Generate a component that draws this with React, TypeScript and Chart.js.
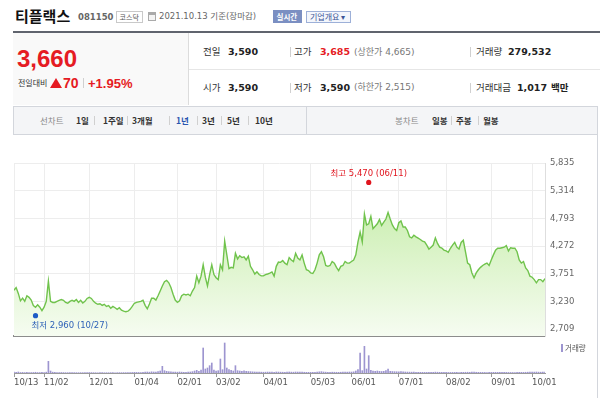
import React, { useEffect, useRef } from "react";
import { Chart, registerables } from "chart.js";

Chart.register(...registerables);

// x ticks: trading-day index of each labelled date
const tickIdx = [0, 14, 35, 56, 76, 94, 116, 138, 157, 179, 201, 222, 241];
const tickLabels = ["10/13", "11/02", "12/01", "01/04", "02/01", "03/02", "04/01", "05/03", "06/01", "07/01", "08/02", "09/01", "10/01"];
const priceTicks = [2709, 3230, 3751, 4272, 4793, 5314, 5835];

// daily closes 2020-10-13 .. 2021-10-13
const closes = [
  3440, 3490, 3380, 3240, 3290, 3230, 3335, 3305, 3255, 3150,
  3120, 3165, 3120, 3055, 3120, 3230, 3610, 3230, 3210, 3210,
  3230, 3250, 3265, 3250, 3210, 3195, 3230, 3250, 3230, 3265,
  3210, 3250, 3200, 3230, 3285, 3305, 3285, 3230, 3195, 3175,
  3185, 3155, 3175, 3135, 3150, 3100, 3135, 3110, 3080, 3110,
  3065, 3045, 3035, 3045, 3080, 3135, 3195, 3210, 3220, 3230,
  3250, 3155, 3090, 3180, 3290, 3290, 3255, 3335, 3425, 3520,
  3600, 3625, 3580, 3490, 3365, 3255, 3210, 3240, 3335, 3365,
  3350, 3365, 3335, 3425, 3490, 3705, 3580, 3705, 3920, 3685,
  3520, 3735, 3920, 3735, 3675, 3640, 3920, 3825, 4365, 4105,
  3845, 3870, 3860, 4135, 4030, 4090, 4055, 4070, 4010, 4080,
  3890, 3825, 3745, 3785, 3735, 3710, 3710, 3735, 3745, 3760,
  3785, 3705, 3890, 3970, 3965, 4000, 3950, 3920, 4055, 4010,
  3980, 4135, 4045, 4010, 4105, 3950, 3825, 3810, 3765, 3755,
  3825, 3950, 4105, 4165, 4070, 3905, 3890, 3905, 3980, 3950,
  3870, 3810, 3890, 3905, 3980, 3950, 3950, 3980, 4010, 4105,
  4350, 4535, 4350, 4875, 4670, 4690, 4830, 4600, 4645, 4690,
  4770, 4660, 4720, 4780, 4905, 4780, 4670, 4600, 4565, 4710,
  4745, 4630, 4630, 4565, 4445, 4425, 4475, 4445, 4420, 4395,
  4365, 4350, 4290, 4215, 4250, 4290, 4425, 4320, 4250, 4235,
  4195, 4180, 4155, 4230, 4290, 4340, 4250, 4215, 4340, 4380,
  4165, 3950, 3920, 3765, 3675, 3765, 3825, 3870, 3905, 3930,
  3950, 3905, 4010, 4105, 4195, 4230, 4230, 4240, 4250, 4280,
  4180, 4240, 4230, 4230, 4165, 4010, 3950, 3980, 3860, 3810,
  3705, 3685, 3640, 3580, 3640, 3640, 3600, 3660,
];

// daily volume (thousand shares)
const volumes = [
  250, 200, 300, 150, 180, 120, 200, 150, 130, 160,
  220, 140, 130, 180, 150, 250, 3500, 600, 250, 180,
  140, 120, 150, 130, 110, 100, 120, 140, 110, 100,
  90, 110, 100, 130, 150, 140, 120, 100, 90, 80,
  100, 90, 80, 90, 85, 100, 90, 80, 95, 110,
  100, 120, 110, 100, 130, 150, 200, 180, 160, 150,
  170, 250, 300, 250, 350, 300, 250, 400, 600, 2000,
  700, 500, 400, 350, 300, 280, 250, 300, 250, 220,
  200, 250, 300, 400, 600, 800, 500, 900, 7500, 1200,
  1500, 2200, 3000, 900, 600, 700, 4200, 1000, 9000, 1500,
  1000, 800, 600, 2200, 700, 600, 500, 650, 500, 450,
  400, 350, 300, 300, 250, 250, 230, 250, 280, 260,
  250, 220, 300, 280, 250, 230, 220, 250, 300, 260,
  240, 300, 280, 250, 260, 220, 200, 210, 190, 200,
  230, 250, 350, 400, 300, 250, 230, 220, 240, 230,
  220, 210, 230, 240, 250, 260, 300, 280, 350, 600,
  1000, 6000, 700, 8000, 1200, 5200, 800, 600, 500, 600,
  500, 450, 500, 700, 1200, 500, 450, 400, 380, 350,
  400, 350, 300, 280, 260, 250, 240, 230, 220, 210,
  200, 190, 180, 200, 190, 210, 260, 230, 200, 190,
  180, 170, 160, 170, 180, 190, 170, 160, 180, 200,
  220, 230, 210, 250, 280, 220, 200, 190, 180, 170,
  160, 170, 180, 200, 210, 190, 180, 170, 180, 190,
  170, 160, 150, 160, 170, 200, 210, 190, 220, 240,
  260, 250, 270, 300, 260, 240, 250, 280,
];

const highIdx = 165;
const highValue = 5470;
const highLabel = "최고 5,470 (06/11)";
const lowIdx = 10;
const lowValue = 2960;
const lowLabel = "최저 2,960 (10/27)";

const KR = '"Noto Sans CJK KR", sans-serif';
const NUM = '"DejaVu Sans", "Noto Sans CJK KR", sans-serif';
const ARIAL = '"Liberation Sans", Arial, sans-serif';

type TP = { x: number; cy: number; size: number; children: React.ReactNode; color?: string; bold?: boolean; family?: string };
function Txt({ x, cy, size, children, color = "#333", bold = false, family = KR }: TP) {
  return (
    <span
      style={{
        position: "absolute",
        left: x,
        top: cy - size / 2,
        fontSize: size,
        lineHeight: `${size}px`,
        fontFamily: family,
        fontWeight: bold ? 700 : 400,
        color,
        whiteSpace: "nowrap",
      }}
    >
      {children}
    </span>
  );
}

function Box({ x, y, w, h, bg, border }: { x: number; y: number; w: number; h: number; bg?: string; border?: string }) {
  return (
    <div
      style={{
        position: "absolute",
        left: x,
        top: y,
        width: w,
        height: h,
        background: bg,
        border: border,
        boxSizing: "border-box",
      }}
    />
  );
}

const markerLabels = {
  id: "markerLabels",
  afterDatasetsDraw(chart: any) {
    const ctx = chart.ctx;
    const hi = chart.getDatasetMeta(1).data[0];
    const lo = chart.getDatasetMeta(2).data[0];
    ctx.save();
    ctx.font = '8.5px "DejaVu Sans", "Noto Sans CJK KR"';
    ctx.textBaseline = "middle";
    ctx.fillStyle = "#e0141e";
    ctx.textAlign = "center";
    ctx.fillText(highLabel, hi.x, hi.y - 9);
    ctx.fillStyle = "#2f63b8";
    ctx.textAlign = "left";
    ctx.fillText(lowLabel, lo.x - 4, lo.y + 10);
    ctx.restore();
  },
};

export default function App() {
  const priceRef = useRef<HTMLCanvasElement>(null);
  const volRef = useRef<HTMLCanvasElement>(null);

  useEffect(() => {
    const gridColor = "#ededed";
    const priceChart = new Chart(priceRef.current as HTMLCanvasElement, {
      type: "line",
      data: {
        labels: closes.map((_, i) => i),
        datasets: [
          {
            data: closes,
            order: 2,
            borderColor: "#70c34c",
            borderWidth: 1.4,
            pointRadius: 0,
            tension: 0,
            fill: "start",
            backgroundColor: (c: any) => {
              const area = c.chart.chartArea;
              if (!area) return "rgba(200,240,170,0.6)";
              const g = c.chart.ctx.createLinearGradient(0, area.top, 0, area.bottom);
              g.addColorStop(0, "#bdea9c");
              g.addColorStop(1, "#f6fcf1");
              return g;
            },
          } as any,
          {
            type: "scatter",
            order: 0,
            data: [{ x: highIdx, y: highValue }],
            pointRadius: 2.6,
            backgroundColor: "#e0141e",
            borderWidth: 0,
          } as any,
          {
            type: "scatter",
            order: 0,
            data: [{ x: lowIdx, y: lowValue }],
            pointRadius: 2.6,
            backgroundColor: "#1e5bc6",
            borderWidth: 0,
          } as any,
        ],
      },
      options: {
        animation: false,
        responsive: false,
        maintainAspectRatio: false,
        layout: { padding: { left: 14, right: 0, top: 23, bottom: 3 } },
        plugins: { legend: { display: false }, tooltip: { enabled: false } },
        scales: {
          x: {
            type: "linear",
            min: 0,
            max: closes.length - 1,
            offset: false,
            afterBuildTicks: (s: any) => {
              s.ticks = tickIdx.map((v) => ({ value: v }));
            },
            afterFit: (s: any) => {
              s.height = 0;
              s.paddingLeft = 0;
              s.paddingRight = 0;
            },
            ticks: { display: false },
            grid: { color: gridColor, drawTicks: false },
            border: { display: true, color: "#8c8c8c", width: 2 },
          },
          y: {
            position: "right",
            min: 2578,
            max: 5835,
            afterBuildTicks: (s: any) => {
              s.ticks = priceTicks.map((v) => ({ value: v }));
            },
            afterFit: (s: any) => {
              s.width = 55;
              s.paddingTop = 0;
              s.paddingBottom = 0;
            },
            ticks: {
              color: "#666",
              padding: 5,
              font: { family: "DejaVu Sans", size: 8.5 },
              callback: (v: any) => Number(v).toLocaleString("en-US"),
            },
            grid: { color: gridColor, drawTicks: false },
            border: { display: true, color: "#dedede" },
          },
        },
      } as any,
      plugins: [markerLabels],
    });

    const volChart = new Chart(volRef.current as HTMLCanvasElement, {
      type: "bar",
      data: {
        labels: volumes.map((_, i) => i),
        datasets: [
          {
            data: volumes,
            backgroundColor: "#9d95d0",
            barThickness: 1,
          },
        ],
      },
      options: {
        animation: false,
        responsive: false,
        maintainAspectRatio: false,
        layout: { padding: { left: 14, right: 55, top: 1, bottom: 0 } },
        plugins: { legend: { display: false }, tooltip: { enabled: false } },
        scales: {
          x: {
            type: "linear",
            min: 0,
            max: volumes.length - 1,
            offset: false,
            afterBuildTicks: (s: any) => {
              s.ticks = tickIdx.map((v) => ({ value: v }));
            },
            afterFit: (s: any) => {
              s.height = 25;
            },
            ticks: {
              align: "start",
              autoSkip: false,
              maxRotation: 0,
              padding: 1,
              color: "#555",
              font: { family: "DejaVu Sans", size: 8.5 },
              callback: (_v: any, i: number) => tickLabels[i],
            },
            grid: { offset: false, drawOnChartArea: false, drawTicks: true, tickLength: 4, color: "#9a9a9a" },
            border: { display: true, color: "#9a9a9a" },
          },
          y: { display: false, min: 0, max: 10500 },
        },
      } as any,
    });

    return () => {
      priceChart.destroy();
      volChart.destroy();
    };
  }, []);

  const sep = (x: number, cy: number, h = 10) => (
    <div style={{ position: "absolute", left: x, top: cy - h / 2, width: 1, height: h, background: "#d0d0d0" }} />
  );

  return (
    <div
      style={{
        position: "absolute",
        left: 0,
        top: 0,
        width: 600,
        height: 398,
        overflow: "hidden",
        background: "#fff",
        fontFamily: KR,
      }}
    >
      {/* title row */}
      <Txt x={15} cy={15} size={15} bold color="#111">티플랙스</Txt>
      <Txt x={78} cy={17} size={8.5} bold color="#666" family={NUM}>081150</Txt>
      <Box x={116} y={11} w={27} h={12} border="1px solid #c9c9c9" bg="#fff" />
      <Txt x={119.5} cy={17} size={7} color="#555">코스닥</Txt>
      <Box x={148} y={12} w={8} h={9} border="1px solid #aaa" bg="#f4f4f4" />
      <Box x={148} y={12} w={8} h={3} bg="#aaa" />
      <Txt x={159} cy={16.5} size={8.5} color="#666" family={NUM}>2021.10.13 기준(장마감)</Txt>
      <Box x={273} y={10} w={29} h={13} bg="#7b8fc2" />
      <Txt x={276.5} cy={16.5} size={7.5} color="#fff" bold>실시간</Txt>
      <Box x={306} y={11} w={45} h={12} border="1px solid #9db0d8" bg="#f3f6fc" />
      <Txt x={310} cy={17} size={8} color="#3b5596">기업개요 ▾</Txt>

      {/* heavy rule */}
      <Box x={13} y={31} w={587} h={2} bg="#60646e" />

      {/* left price panel */}
      <Box x={13} y={33} w={175} h={72} bg="#f9f9f9" />
      <Box x={188} y={33} w={1} h={72} bg="#dcdcdc" />
      <Txt x={17} cy={59} size={24} bold color="#e51b23" family={ARIAL}>3,660</Txt>
      <Txt x={18} cy={83} size={8} color="#333">전일대비</Txt>
      <div
        style={{
          position: "absolute",
          left: 50,
          top: 78,
          width: 12,
          height: 10,
          background: "#e51b23",
          clipPath: "polygon(50% 0, 100% 100%, 0 100%)",
        }}
      />
      <Txt x={63} cy={83} size={14} bold color="#e51b23" family={ARIAL}>70</Txt>
      {sep(83, 83)}
      <Txt x={88} cy={83} size={13} bold color="#e51b23" family={ARIAL}>+1.95%</Txt>

      {/* right table */}
      <Box x={189} y={69} w={411} h={1} bg="#e6e6e6" />
      <Txt x={203} cy={52} size={9.5} color="#333">전일</Txt>
      <Txt x={228} cy={52} size={9.5} bold color="#222" family={NUM}>3,590</Txt>
      {sep(290, 52)}
      <Txt x={294} cy={52} size={9.5} color="#333">고가</Txt>
      <Txt x={320} cy={52} size={9.5} bold color="#e51b23" family={NUM}>3,685</Txt>
      <Txt x={354} cy={52} size={9} color="#777" family={NUM}>(상한가 4,665)</Txt>
      {sep(470, 52)}
      <Txt x={476} cy={52} size={9.5} color="#333">거래량</Txt>
      <Txt x={508} cy={52} size={9.5} bold color="#222" family={NUM}>279,532</Txt>

      <Txt x={203} cy={87.5} size={9.5} color="#333">시가</Txt>
      <Txt x={228} cy={87.5} size={9.5} bold color="#222" family={NUM}>3,590</Txt>
      {sep(290, 87.5)}
      <Txt x={294} cy={87.5} size={9.5} color="#333">저가</Txt>
      <Txt x={320} cy={87.5} size={9.5} bold color="#222" family={NUM}>3,590</Txt>
      <Txt x={354} cy={87.5} size={9} color="#777" family={NUM}>(하한가 2,515)</Txt>
      {sep(470, 87.5)}
      <Txt x={476} cy={87.5} size={9.5} color="#333">거래대금</Txt>
      <Txt x={517} cy={87.5} size={9.5} bold color="#222" family={NUM}>1,017</Txt>
      <Txt x={551} cy={87.5} size={9.5} bold color="#222">백만</Txt>

      {/* tab bar */}
      <Box x={13} y={106} w={585} h={29} bg="#f4f5f7" border="1px solid #d3d6dc" />
      <Box x={306} y={106} w={1} h={29} bg="#d3d6dc" />
      <Txt x={40} cy={120} size={8.5} color="#888">선차트</Txt>
      <Txt x={76} cy={120} size={8.5} bold color="#333">1일</Txt>
      {sep(94, 120, 9)}
      <Txt x={103} cy={120} size={8.5} bold color="#333">1주일</Txt>
      {sep(127, 120, 9)}
      <Txt x={132} cy={120} size={8.5} bold color="#333">3개월</Txt>
      {sep(169, 120, 9)}
      <Txt x={176} cy={120} size={8.5} bold color="#2a56b0">1년</Txt>
      {sep(197, 120, 9)}
      <Txt x={202} cy={120} size={8.5} bold color="#333">3년</Txt>
      {sep(221, 120, 9)}
      <Txt x={227} cy={120} size={8.5} bold color="#333">5년</Txt>
      {sep(248, 120, 9)}
      <Txt x={255} cy={120} size={8.5} bold color="#333">10년</Txt>
      <Txt x={395} cy={120} size={8.5} color="#888">봉차트</Txt>
      <Txt x={432} cy={120} size={8.5} bold color="#333">일봉</Txt>
      {sep(451, 120, 9)}
      <Txt x={456} cy={120} size={8.5} bold color="#333">주봉</Txt>
      {sep(478, 120, 9)}
      <Txt x={483} cy={120} size={8.5} bold color="#333">월봉</Txt>

      {/* right frame */}
      <Box x={597} y={106} w={1} h={292} bg="#d3d6dc" />

      {/* charts */}
      <canvas
        ref={priceRef}
        width={600}
        height={200}
        style={{ position: "absolute", left: 0, top: 140, width: 600, height: 200, display: "block" }}
      />
      <canvas
        ref={volRef}
        width={600}
        height={61}
        style={{ position: "absolute", left: 0, top: 337, width: 600, height: 61, display: "block" }}
      />

      {/* volume legend */}
      <Box x={561} y={344} w={2} h={8} bg="#9d95d0" />
      <Txt x={565} cy={348} size={7.5} color="#555">거래량</Txt>
    </div>
  );
}
